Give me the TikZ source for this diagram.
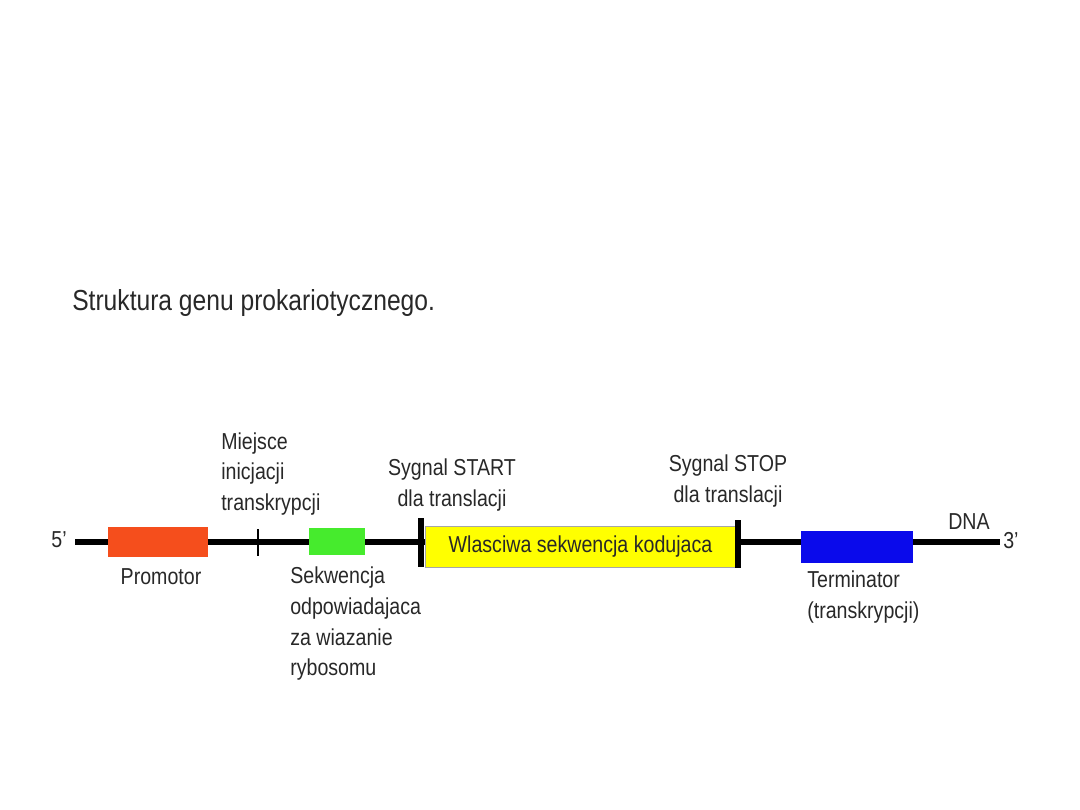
\documentclass[tikz,border=0pt]{standalone}
\usepackage{fontspec}
\setmainfont[FakeStretch=0.85]{Liberation Sans}

\definecolor{promred}{RGB}{245,78,28}
\definecolor{rbsgreen}{RGB}{70,235,45}
\definecolor{cdsyellow}{RGB}{255,255,0}
\definecolor{termblue}{RGB}{10,10,235}
\definecolor{txtgray}{RGB}{40,40,40}

\begin{document}
\begin{tikzpicture}[x=0.025cm,y=-0.025cm,
    lbl/.style={font=\fontsize{16.4}{21.8}\selectfont, text=txtgray, inner sep=0pt},
    region/.style={draw=none, inner sep=0pt}]
\useasboundingbox (0,0) rectangle (1080,810);

\node[lbl, font=\fontsize{20.6}{22}\selectfont, anchor=west] (title) at (72,303) {Struktura genu prokariotycznego.};

% nic DNA
\coordinate (dnaL) at (75,542);
\coordinate (dnaR) at (1000,542);
\draw[line width=4.2pt] (dnaL) -- (dnaR);
\node[lbl, anchor=east] (five) at (67,540) {5'};
\node[lbl, anchor=west] (three) at (1003,541) {3'};
\node[lbl] (dna) at (969,522) {DNA};

% odcinki genu
\node[region, fill=promred, minimum width=2.5cm, minimum height=0.75cm] (promotor) at (158,542) {};
\node[region, fill=rbsgreen, minimum width=1.4cm, minimum height=0.675cm] (rbs) at (337,541.5) {};
\node[region, fill=cdsyellow, draw=black!35, line width=0.4pt, minimum width=7.78cm, minimum height=1.03cm,
      font=\fontsize{16.4}{18}\selectfont, text=txtgray] (cds) at (580.5,546.5) {Wlasciwa sekwencja kodujaca};
\node[region, fill=termblue, minimum width=2.8cm, minimum height=0.8cm] (term) at (857,547) {};

% znaczniki
\coordinate (tssT) at (258,529); \coordinate (tssB) at (258,556);
\draw[line width=2.1pt] (tssT) -- (tssB);
\coordinate (startT) at (421,518); \coordinate (startB) at (421,567);
\draw[line width=3.6pt] (startT) -- (startB);
\coordinate (stopT) at (738,520); \coordinate (stopB) at (738,568);
\draw[line width=3.6pt] (stopT) -- (stopB);

% podpisy
\node[lbl] (promlbl) at (161,577) {Promotor};
\node[lbl, anchor=west, align=left] (tsslbl) at (221,474) {Miejsce\\inicjacji\\transkrypcji};
\node[lbl, anchor=west, align=left] (rbslbl) at (290,624) {Sekwencja\\odpowiadajaca\\za wiazanie\\rybosomu};
\node[lbl, align=center] (startlbl) at (452,485) {Sygnal START\\dla translacji};
\node[lbl, align=center] (stoplbl) at (728,481) {Sygnal STOP\\dla translacji};
\node[lbl, anchor=west, align=left] (termlbl) at (807,597) {Terminator\\(transkrypcji)};
\end{tikzpicture}
\end{document}
